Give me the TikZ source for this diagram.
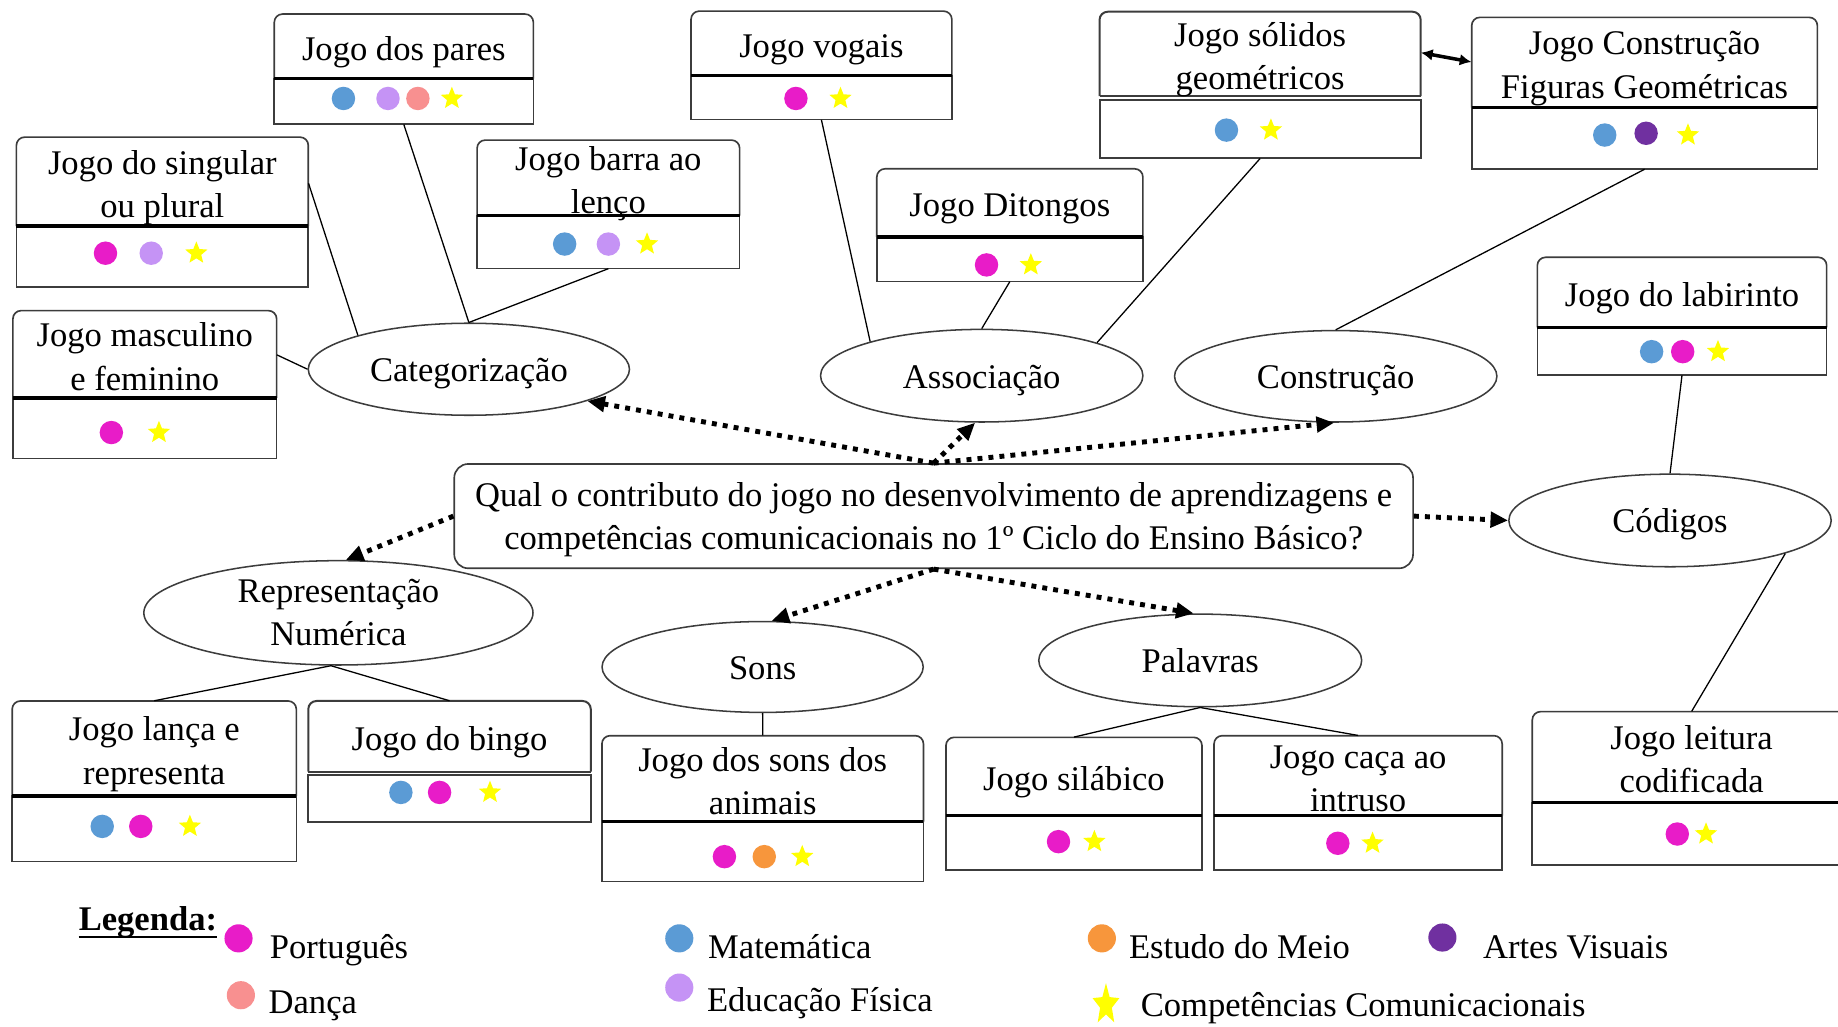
\documentclass[tikz,border=0pt]{standalone}
\usepackage{fontspec}
\setmainfont{Liberation Serif}
\usetikzlibrary{shapes.geometric,arrows.meta,calc,fit}
\definecolor{cPort}{HTML}{E81CC8}
\definecolor{cMat}{HTML}{5B9BD5}
\definecolor{cEF}{HTML}{C593F5}
\definecolor{cDan}{HTML}{F89090}
\definecolor{cEM}{HTML}{F7963C}
\definecolor{cAV}{HTML}{7030A0}
\definecolor{cStar}{HTML}{FFFF00}
\definecolor{lineg}{HTML}{3C3C3C}
\newcommand\bigf{\fontsize{29.5pt}{37pt}\selectfont}
\newcommand\mystrut{\rule[-8pt]{0pt}{37pt}}
\newcommand\topstrut[1]{\rule[-8pt]{0pt}{#1}}
\tikzset{
  txt/.style={font=\bigf, align=center, inner sep=0pt,
    execute at begin node=\mystrut, execute at end node=\mystrut},
  txtone/.style={txt, execute at begin node=\topstrut{40pt}},
  txttwo/.style={txt, execute at begin node=\topstrut{77pt}},
  legt/.style={font=\bigf, inner sep=0pt, anchor=base west},
  boxline/.style={draw=lineg, line width=1.4pt},
  dboxline/.style={draw=lineg, line width=1.7pt},
  divline/.style={draw=black, line width=3pt},
  ellshape/.style={ellipse, draw=lineg, line width=1.3pt, inner sep=0pt},
  ell/.style={ellshape, txt},
  qbox/.style={rectangle, rounded corners=12pt, draw=lineg, line width=1.4pt, txt},
  conn/.style={draw=black, line width=1.1pt},
  dotarr/.style={draw=black, line width=4.2pt, dash pattern=on 4.2pt off 5.2pt,
    -{Triangle[length=15pt,width=13pt]}},
  dblarr/.style={draw=black, line width=3pt,
    {Latex[length=10pt,width=10pt]}-{Latex[length=10pt,width=10pt]}}
}
% name, x1, y1, x2, y2, ydiv, text, text style
\newcommand\gbox[8]{%
  \node[fit={(#2,#3) (#4,#5)}, inner sep=0pt] (#1) {};
  \draw[boxline, rounded corners=7pt] (#2,#6) -- (#2,#3) -- (#4,#3) -- (#4,#6);
  \draw[boxline] (#2,#6) rectangle (#4,#5);
  \draw[divline] (#2,#6) -- (#4,#6);
  \node[#8] (#1-t) at ({(#2+#4)/2},{(#3+#6)/2}) {#7};
}
% name, x1, y1, x2, y2, header bottom, body top, text, text style
\newcommand\gboxd[9]{%
  \node[fit={(#2,#3) (#4,#5)}, inner sep=0pt] (#1) {};
  \draw[dboxline, rounded corners=7pt] (#2,#6) -- (#2,#3) -- (#4,#3) -- (#4,#6);
  \draw[dboxline] (#2,#6) -- (#4,#6);
  \draw[dboxline] (#2,#7) rectangle (#4,#5);
  \node[#9] (#1-t) at ({(#2+#4)/2},{(#3+#6)/2}) {#8};
}
\newcommand\mdot[3]{\fill[#1] (#2,#3) circle[radius=10pt];}
\newcommand\ldot[3]{\fill[#1] (#2,#3) circle[radius=12pt];}
\newcommand\mstar[4]{%
  \fill[cStar] (#1,{#2-#4}) \foreach \k in {1,...,9}{ -- ({#1+#3*(0.72+0.28*cos(180*\k))*cos(-90+36*\k)},{#2+#4*(0.72+0.28*cos(180*\k))*sin(-90+36*\k)}) } -- cycle;}
\begin{document}
\begin{tikzpicture}[x=1pt,y=-1pt]
\useasboundingbox (0,0) rectangle (1568,876);
\clip (0,0) rectangle (1568,876);
\fill[white] (0,0) rectangle (1568,876);

% ---------- game boxes ----------
\gbox{pares}{234}{12}{455}{106}{67}{Jogo dos pares}{txtone}
\gbox{sing}{14}{117}{263}{245}{193}{Jogo do singular\\ou plural}{txttwo}
\gbox{barra}{407}{119.5}{631}{229}{184}{Jogo barra ao\\lenço}{txttwo}
\gbox{masc}{11}{265}{236}{391}{339.5}{Jogo masculino\\e feminino}{txttwo}
\gbox{vog}{589.5}{9.5}{812}{102}{64.5}{Jogo vogais}{txtone}
\gbox{dit}{748}{144}{975}{240}{202}{Jogo Ditongos}{txtone}
\gboxd{sol}{938}{10}{1212}{135}{82}{85}{Jogo sólidos\\geométricos}{txttwo}
\gbox{fig}{1255.5}{14.8}{1550.4}{144.2}{91.9}{Jogo Construção\\Figuras Geométricas}{txttwo}
\gbox{lab}{1311.5}{219.5}{1558.3}{320}{279.2}{Jogo do labirinto}{txtone}
\gbox{lanca}{10.4}{598}{252.8}{735}{679}{Jogo lança e\\representa}{txttwo}
\gboxd{bingo}{263}{598}{504}{701}{658.3}{661.2}{Jogo do bingo}{txtone}
\gbox{ani}{513.5}{627.6}{787.8}{752}{701}{Jogo dos sons dos\\animais}{txttwo}
\gbox{sil}{807}{629}{1025.4}{742.2}{695.8}{Jogo silábico}{txtone}
\gbox{caca}{1035.7}{627.6}{1281.5}{742.2}{695.8}{Jogo caça ao\\intruso}{txttwo}
\gbox{lei}{1307.2}{607.1}{1579}{738}{684.7}{Jogo leitura\\codificada}{txttwo}

% ---------- dots ----------
\mdot{cMat}{293}{84} \mdot{cEF}{331}{84} \mdot{cDan}{356.5}{84} \mstar{385.5}{84}{10}{10}
\mdot{cPort}{90}{216} \mdot{cEF}{129}{216} \mstar{167.5}{216}{10}{10}
\mdot{cMat}{481.7}{208.2} \mdot{cEF}{519}{208.2} \mstar{552}{208.2}{10}{10}
\mdot{cPort}{95}{369} \mstar{135.6}{369}{10}{10}
\mdot{cPort}{679}{84} \mstar{717}{84}{10}{10}
\mdot{cPort}{841.6}{226} \mstar{879.4}{226}{10}{10}
\mdot{cMat}{1046.3}{111} \mstar{1084.2}{111}{10}{10}
\mdot{cMat}{1369}{115.2} \mdot{cAV}{1404.3}{113.7} \mstar{1440}{115.2}{10}{10}
\mdot{cMat}{1409}{300} \mdot{cPort}{1435.5}{300} \mstar{1465.6}{300}{10}{10}
\mdot{cMat}{87.2}{705} \mdot{cPort}{120.1}{705} \mstar{162}{705}{10}{10}
\mdot{cMat}{342}{676} \mdot{cPort}{375}{676} \mstar{418}{676}{10}{10}
\mdot{cPort}{618}{730.8} \mdot{cEM}{652}{730.8} \mstar{684.4}{730.8}{10}{10}
\mdot{cPort}{903}{718} \mstar{933.6}{718}{10}{10}
\mdot{cPort}{1141.3}{719.4} \mstar{1170.9}{719.4}{10}{10}
\mdot{cPort}{1430.9}{711.5} \mstar{1455.4}{711.5}{10}{10}

% ---------- ellipses ----------
\node[ell, minimum width=274, minimum height=78.5] (cat) at (400,315) {Categorização};
\node[ell, minimum width=275, minimum height=79] (assoc) at (837.5,320.5) {Associação};
\node[ell, minimum width=275, minimum height=78] (con) at (1139.5,321) {Construção};
\node[ell, minimum width=275, minimum height=79] (cod) at (1424.7,444) {Códigos};
\node[ellshape, minimum width=332, minimum height=89] (rep) at (288.7,522.8) {};
\node[txt, execute at begin node=\topstrut{72pt}] (rep-t) at (rep.center) {Representação\\Numérica};
\node[ell, minimum width=274, minimum height=77.5] (sons) at (650.6,569) {Sons};
\node[ell, minimum width=275.5, minimum height=79] (pal) at (1023.9,563.4) {Palavras};

% ---------- central question ----------
\node[qbox, minimum width=818, minimum height=89, execute at begin node=\topstrut{73pt}] (q) at (796.5,440.3)
  {Qual o contributo do jogo no desenvolvimento de aprendizagens e\\competências comunicacionais no 1º Ciclo do Ensino Básico?};

% ---------- solid connectors ----------
\draw[conn] (pares.south) -- (cat.north);
\draw[conn] (barra.south) -- (cat.north);
\draw[conn] ($(sing.north east)!0.308!(sing.south east)$) -- (cat.163.3);
\draw[conn] ($(masc.north east)!0.3!(masc.south east)$) -- (cat.west);
\draw[conn] (vog.south) -- (assoc.163.3);
\draw[conn] (dit.south) -- (assoc.north);
\draw[conn] (sol.south) -- (assoc.16.4);
\draw[conn] (fig.south) -- (con.north);
\draw[conn] (lab.south) -- (cod.north);
\draw[conn] (cod.-16.1) -- (lei.north);
\draw[conn] (rep.-98.5) -- (lanca.north);
\draw[conn] (rep.-98.5) -- (bingo.north);
\draw[conn] (sons.south) -- (ani.north);
\draw[conn] (pal.south) -- (sil.north);
\draw[conn] (pal.south) -- (caca.north);

% ---------- dotted arrows ----------
\draw[dotarr] (q.north) -- (cat.-15.7);
\draw[dotarr] (q.north) -- (assoc.-98);
\draw[dotarr] (q.north) -- (con.-92);
\draw[dotarr] (q.west) -- (rep.82);
\draw[dotarr] (q.south) -- (sons.79);
\draw[dotarr] (q.south) -- (pal.98);
\draw[dotarr] (q.east) -- (cod.west);

% ---------- double arrow ----------
\draw[dblarr] ($(sol.north east)!0.28!(sol.south east)$) -- ($(fig.north west)!0.295!(fig.south west)$);

% ---------- legend ----------
\node[legt] (lg) at (67,793.4) {\textbf{Legenda:}};
\draw[line width=1.6pt] ([yshift=-5.6pt]lg.base west) -- ([yshift=-5.6pt]lg.base east);
\ldot{cPort}{203.5}{800.5}
\node[legt] (lp) at (230,818) {Português};
\ldot{cDan}{205.5}{849}
\node[legt] (ld) at (229,864.5) {Dança};
\ldot{cMat}{579.5}{800.5}
\node[legt] (lm) at (604,818) {Matemática};
\ldot{cEF}{579.5}{842.5}
\node[legt] (lef) at (603,863) {Educação Física};
\ldot{cEM}{940}{800.5}
\node[legt] (lem) at (963,818) {Estudo do Meio};
\mstar{943.5}{857.2}{12}{18.5}
\node[legt] (lcc) at (973,867.3) {Competências Comunicacionais};
\ldot{cAV}{1230.5}{799.8}
\node[legt] (lav) at (1265,818) {Artes Visuais};
\end{tikzpicture}
\end{document}
